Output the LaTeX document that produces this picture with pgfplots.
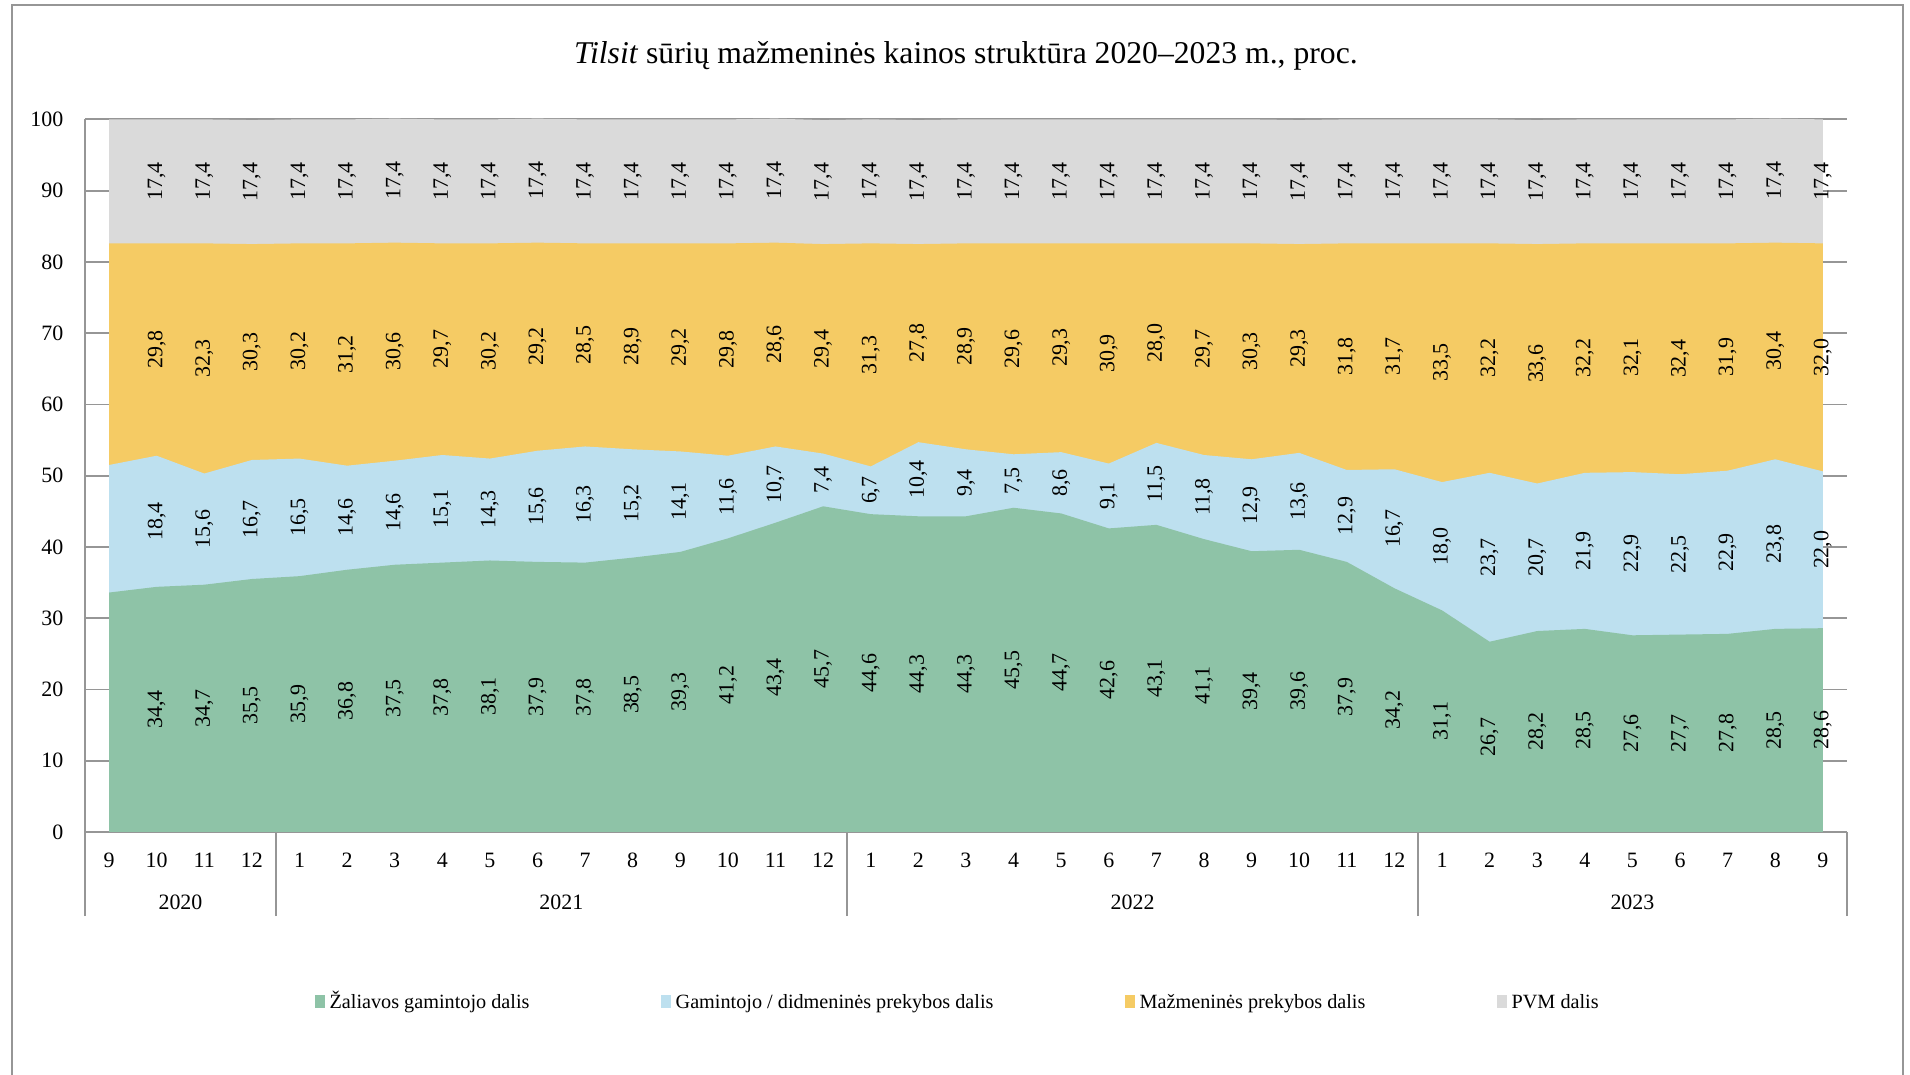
\documentclass[border=0pt]{standalone}
\usepackage{pgfplots}
\pgfplotsset{compat=1.18}
\usepackage{pgfplotstable}
\usepackage{fontspec}
\setmainfont{Liberation Serif}
\definecolor{cG}{RGB}{142,195,167}
\definecolor{cB}{RGB}{189,224,239}
\definecolor{cY}{RGB}{245,203,100}
\definecolor{cV}{RGB}{218,218,218}
\definecolor{axg}{RGB}{150,150,150}

\pgfplotstableread{
x raw gam maz pvm
0 33.6 17.9 31.1 17.4
1 34.4 18.4 29.8 17.4
2 34.7 15.6 32.3 17.4
3 35.5 16.7 30.3 17.4
4 35.9 16.5 30.2 17.4
5 36.8 14.6 31.2 17.4
6 37.5 14.6 30.6 17.4
7 37.8 15.1 29.7 17.4
8 38.1 14.3 30.2 17.4
9 37.9 15.6 29.2 17.4
10 37.8 16.3 28.5 17.4
11 38.5 15.2 28.9 17.4
12 39.3 14.1 29.2 17.4
13 41.2 11.6 29.8 17.4
14 43.4 10.7 28.6 17.4
15 45.7 7.4 29.4 17.4
16 44.6 6.7 31.3 17.4
17 44.3 10.4 27.8 17.4
18 44.3 9.4 28.9 17.4
19 45.5 7.5 29.6 17.4
20 44.7 8.6 29.3 17.4
21 42.6 9.1 30.9 17.4
22 43.1 11.5 28.0 17.4
23 41.1 11.8 29.7 17.4
24 39.4 12.9 30.3 17.4
25 39.6 13.6 29.3 17.4
26 37.9 12.9 31.8 17.4
27 34.2 16.7 31.7 17.4
28 31.1 18.0 33.5 17.4
29 26.7 23.7 32.2 17.4
30 28.2 20.7 33.6 17.4
31 28.5 21.9 32.2 17.4
32 27.6 22.9 32.1 17.4
33 27.7 22.5 32.4 17.4
34 27.8 22.9 31.9 17.4
35 28.5 23.8 30.4 17.4
36 28.6 22.0 32.0 17.4
}\data
\pgfplotstablecreatecol[create col/expr={\thisrow{raw}+\thisrow{gam}}]{c2}{\data}
\pgfplotstablecreatecol[create col/expr={\thisrow{raw}+\thisrow{gam}+\thisrow{maz}}]{c3}{\data}
\pgfplotstablecreatecol[create col/expr={\thisrow{raw}+\thisrow{gam}+\thisrow{maz}+\thisrow{pvm}}]{c4}{\data}
\pgfplotstablecreatecol[create col/expr={\thisrow{raw}/2}]{m1}{\data}
\pgfplotstablecreatecol[create col/expr={\thisrow{raw}+\thisrow{gam}/2}]{m2}{\data}
\pgfplotstablecreatecol[create col/expr={\thisrow{raw}+\thisrow{gam}+\thisrow{maz}/2}]{m3}{\data}
\pgfplotstablecreatecol[create col/expr={\thisrow{raw}+\thisrow{gam}+\thisrow{maz}+\thisrow{pvm}/2}]{m4}{\data}

\pgfplotsset{
  lbl/.style={draw=none, mark=none, forget plot,
    point meta=explicit,
    skip coords between index={0}{1},
    nodes near coords={\pgfmathprintnumber[fixed,fixed zerofill,precision=1,use comma]{\pgfplotspointmeta}},
    every node near coord/.append style={rotate=90, anchor=center, inner sep=0pt, text=black, font=\fontsize{9}{10}\selectfont}},
}

\begin{document}
\begin{tikzpicture}
\useasboundingbox (0,0) rectangle (784pt,-441pt);
\draw[axg, line width=0.75pt] (5pt,-2pt) rectangle (781pt,-446pt);
\node[font=\fontsize{13}{15}\selectfont] at (396.5pt,-23pt) {\textit{Tilsit} sūrių mažmeninės kainos struktūra 2020–2023 m., proc.};
\begin{axis}[
  scale only axis, width=723pt, height=292.5pt,
  at={(35pt,-341.5pt)}, anchor=south west,
  xmin=-0.5, xmax=36.5, ymin=0, ymax=100,
  ytick={0,10,...,100},
  xtick={0,...,36},
  xticklabels={9,10,11,12,1,2,3,4,5,6,7,8,9,10,11,12,1,2,3,4,5,6,7,8,9,10,11,12,1,2,3,4,5,6,7,8,9},
  major tick length=0pt,
  axis lines=left,
  every outer x axis line/.append style={-},
  every outer y axis line/.append style={-},
  x axis line style={-}, y axis line style={-},
  axis line style={draw=axg, line width=0.75pt},
  ymajorgrids, grid style={draw=axg, line width=0.75pt},
  ticklabel style={font=\fontsize{9}{10}\selectfont},
  /pgf/number format/assume math mode=true,
  yticklabel style={xshift=-5.5pt},
  xticklabel style={yshift=-5pt},
  extra x ticks={-0.5,3.5,15.5,27.5,36.5},
  extra x tick labels={,,,,},
  extra x tick style={major tick length=34.5pt, tick align=outside, tick style={draw=axg, line width=0.75pt}},
  clip=false,
  legend columns=4,
  legend style={at={(0.4962,-0.2376)}, anchor=center, draw=none, fill=none,
    font=\fontsize{8.3}{10}\selectfont,
    /tikz/every even column/.append style={column sep=52pt}},
  legend image code/.code={\fill[#1] (0pt,-2.6pt) rectangle (4pt,2.6pt);},
]
\addplot[fill=cV, draw=none, forget plot] table[x=x, y=c4]{\data} \closedcycle;
\addplot[fill=cY, draw=none, forget plot] table[x=x, y=c3]{\data} \closedcycle;
\addplot[fill=cB, draw=none, forget plot] table[x=x, y=c2]{\data} \closedcycle;
\addplot[fill=cG, draw=none, forget plot] table[x=x, y=raw]{\data} \closedcycle;

\addplot[lbl] table[x=x, y=m1, meta=raw]{\data};
\addplot[lbl] table[x=x, y=m2, meta=gam]{\data};
\addplot[lbl] table[x=x, y=m3, meta=maz]{\data};
\addplot[lbl] table[x=x, y=m4, meta=pvm]{\data};

\addlegendimage{fill=cG, draw=none}
\addlegendentry{Žaliavos gamintojo dalis}
\addlegendimage{fill=cB, draw=none}
\addlegendentry{\vphantom{Ž}Gamintojo / didmeninės prekybos dalis}
\addlegendimage{fill=cY, draw=none}
\addlegendentry{\vphantom{Ž}Mažmeninės prekybos dalis}
\addlegendimage{fill=cV, draw=none}
\addlegendentry{\vphantom{Ž}PVM dalis}

\node[font=\fontsize{9}{10}\selectfont, yshift=-29pt] at (axis cs:1.5,0) {2020};
\node[font=\fontsize{9}{10}\selectfont, yshift=-29pt] at (axis cs:9.5,0) {2021};
\node[font=\fontsize{9}{10}\selectfont, yshift=-29pt] at (axis cs:21.5,0) {2022};
\node[font=\fontsize{9}{10}\selectfont, yshift=-29pt] at (axis cs:32,0) {2023};
\end{axis}
\end{tikzpicture}
\end{document}
